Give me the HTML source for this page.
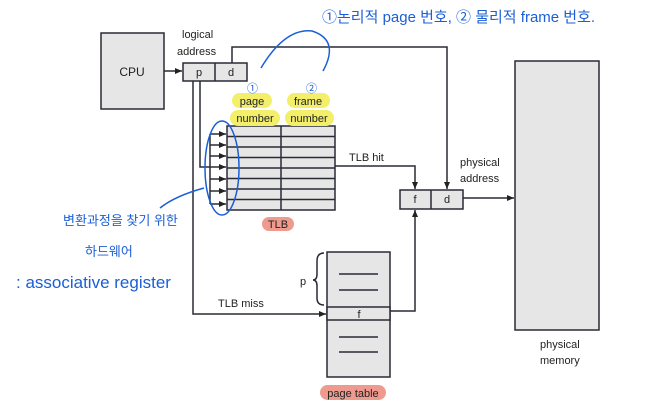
<!DOCTYPE html>
<html><head><meta charset="utf-8"><style>
html,body{margin:0;padding:0;background:#fff;overflow:hidden;}
svg{display:block;}
text{font-family:"Liberation Sans","Noto Sans CJK KR",sans-serif;fill:#222;}
.h{fill:#1a5fd6;font-family:"Liberation Sans","Noto Sans CJK KR",sans-serif;}
</style></head><body>
<svg width="647" height="413" viewBox="0 0 647 413" xmlns="http://www.w3.org/2000/svg">
<defs><marker id="a" markerWidth="8" markerHeight="8" refX="7" refY="4" orient="auto" markerUnits="userSpaceOnUse"><path d="M0,1 L7,4 L0,7 z" fill="#222"/></marker></defs>
<g stroke="#2a2a35" stroke-width="1.5" fill="#e6e6e6">
<rect x="101" y="33" width="63" height="76"/>
<rect x="183" y="63" width="64" height="18"/>
<rect x="227" y="126" width="108" height="84"/>
<rect x="400" y="190" width="63" height="19"/>
<rect x="515" y="61" width="84" height="269"/>
<rect x="327" y="252" width="63" height="125"/>
<rect x="327" y="307" width="63" height="13"/>
</g>
<g stroke="#2a2a35" stroke-width="1.5" fill="none">
<line x1="215" y1="63" x2="215" y2="81"/>
<line x1="431" y1="190" x2="431" y2="209"/>
<line x1="281" y1="126" x2="281" y2="210"/>
<line x1="227" y1="136.5" x2="335" y2="136.5"/><line x1="227" y1="147" x2="335" y2="147"/>
<line x1="227" y1="157.5" x2="335" y2="157.5"/><line x1="227" y1="168" x2="335" y2="168"/>
<line x1="227" y1="178.5" x2="335" y2="178.5"/><line x1="227" y1="189" x2="335" y2="189"/>
<line x1="227" y1="199.5" x2="335" y2="199.5"/>
<line x1="164" y1="71" x2="182" y2="71" marker-end="url(#a)"/>
<polyline points="232,63 232,47 447,47 447,189" marker-end="url(#a)"/>
<polyline points="335,166 415,166 415,189" marker-end="url(#a)"/>
<line x1="463" y1="198" x2="514" y2="198" marker-end="url(#a)"/>
<polyline points="200,81 200,167 210,167"/>
<line x1="210" y1="134" x2="210" y2="204"/>
<line x1="210" y1="134" x2="226" y2="134" marker-end="url(#a)"/>
<line x1="210" y1="145" x2="226" y2="145" marker-end="url(#a)"/>
<line x1="210" y1="156" x2="226" y2="156" marker-end="url(#a)"/>
<line x1="210" y1="167" x2="226" y2="167" marker-end="url(#a)"/>
<line x1="210" y1="179" x2="226" y2="179" marker-end="url(#a)"/>
<line x1="210" y1="191" x2="226" y2="191" marker-end="url(#a)"/>
<line x1="210" y1="204" x2="226" y2="204" marker-end="url(#a)"/>
<polyline points="193,81 193,314 326,314" marker-end="url(#a)"/>
<polyline points="390,311 415,311 415,210" marker-end="url(#a)"/>
<line x1="339" y1="274" x2="378" y2="274"/><line x1="339" y1="290" x2="378" y2="290"/>
<line x1="339" y1="337" x2="378" y2="337"/><line x1="339" y1="352" x2="378" y2="352"/>
<path d="M324,253 Q317,253 317,261 L317,274 Q317,280 313,280 Q317,280 317,286 L317,298 Q317,305 324,305"/>
</g>
<rect x="232" y="93" width="40" height="15" rx="7.5" fill="#f3ef6a"/>
<rect x="230" y="110" width="50" height="16" rx="8" fill="#f3ef6a"/>
<rect x="287" y="93" width="43" height="15" rx="7.5" fill="#f3ef6a"/>
<rect x="285" y="110" width="49" height="16" rx="8" fill="#f3ef6a"/>
<rect x="262" y="217" width="32" height="14" rx="7" fill="#ee9a8e"/>
<rect x="320" y="385" width="66" height="15" rx="7.5" fill="#ee9a8e"/>
<g font-size="11">
<text x="132" y="76" text-anchor="middle" font-size="12">CPU</text>
<text x="182" y="38">logical</text><text x="177" y="55">address</text>
<text x="199" y="76" text-anchor="middle">p</text><text x="231" y="76" text-anchor="middle">d</text>
<text x="252" y="105" text-anchor="middle">page</text><text x="255" y="122" text-anchor="middle">number</text>
<text x="308" y="105" text-anchor="middle">frame</text><text x="309" y="122" text-anchor="middle">number</text>
<text x="349" y="161">TLB hit</text>
<text x="278" y="228" text-anchor="middle">TLB</text>
<text x="415" y="203" text-anchor="middle">f</text><text x="447" y="203" text-anchor="middle">d</text>
<text x="460" y="166">physical</text><text x="460" y="182">address</text>
<text x="218" y="307">TLB miss</text>
<text x="300" y="285">p</text>
<text x="359" y="318" text-anchor="middle">f</text>
<text x="353" y="397" text-anchor="middle">page table</text>
<text x="540" y="348">physical</text><text x="540" y="364">memory</text>
</g>
<g fill="none" stroke="#1a5fd6" stroke-width="1.5">
<ellipse cx="222" cy="168" rx="17" ry="47"/>
<path d="M261,68 Q285,28 312,31 Q340,40 323,71"/>
<path d="M204,188 Q175,196 160,208"/>
</g>
<text class="h" x="247" y="92" font-size="11">①</text>
<text class="h" x="306" y="92" font-size="11">②</text>
<text class="h" x="322" y="22" font-size="15">①논리적 page 번호, ② 물리적 frame 번호.</text>
<text class="h" x="63" y="225" font-size="13">변환과정을 찾기 위한</text>
<text class="h" x="85" y="256" font-size="13">하드웨어</text>
<text class="h" x="16" y="288" font-size="17">: associative register</text>
</svg>
</body></html>
